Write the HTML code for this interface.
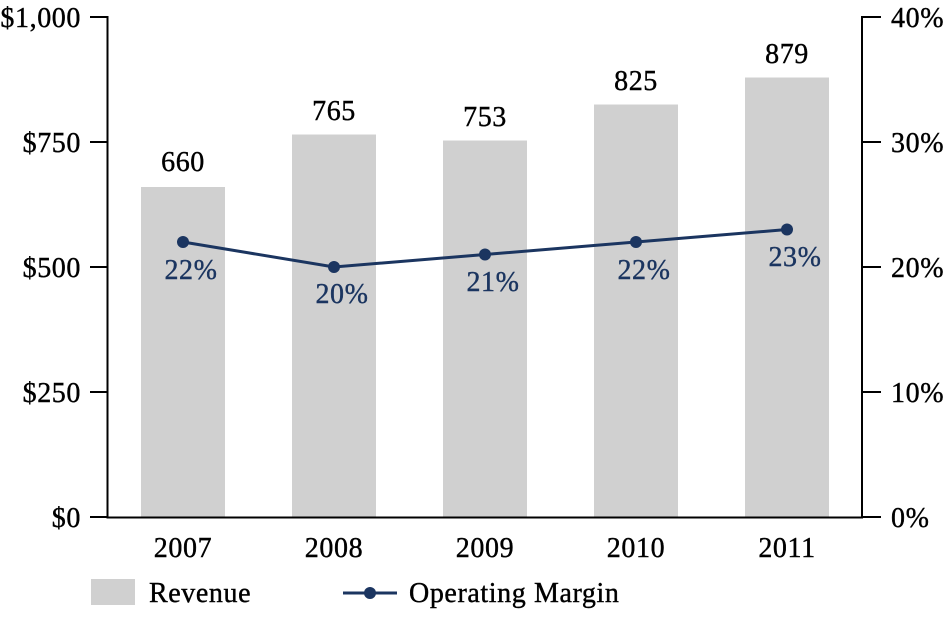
<!DOCTYPE html>
<html><head><style>body{margin:0;background:#fff} svg text{font-family:"Liberation Serif","Times New Roman","DejaVu Serif",serif;font-size:28px;letter-spacing:0.6px;stroke-width:0.4px}</style></head><body>
<svg width="945" height="613" xmlns="http://www.w3.org/2000/svg">
<g fill="#d0d0d0">
<rect x="141" y="187" width="84" height="330"/>
<rect x="292" y="134.5" width="84" height="382.5"/>
<rect x="443" y="140.5" width="84" height="376.5"/>
<rect x="594" y="104.5" width="84" height="412.5"/>
<rect x="745" y="77.5" width="84" height="439.5"/>
</g>
<g stroke="#000" stroke-width="2" fill="none">
<path d="M107.5 16 V517.5 H862 V16"/>
<path d="M90 17H107.5 M90 142H107.5 M90 267H107.5 M90 392H107.5 M90 517H107.5"/>
<path d="M862 17H881 M862 142H881 M862 267H881 M862 392H881 M862 517H881"/>
</g>
<g text-anchor="end" stroke="#000">
<text x="81" y="27">$1,000</text><text x="81" y="152">$750</text><text x="81" y="277">$500</text><text x="81" y="402">$250</text><text x="81" y="527">$0</text>
</g>
<g stroke="#000">
<text x="891" y="27">40%</text><text x="891" y="152">30%</text><text x="891" y="277">20%</text><text x="891" y="402">10%</text><text x="891" y="527">0%</text>
</g>
<g text-anchor="middle" stroke="#000">
<text x="183" y="557">2007</text><text x="334" y="557">2008</text><text x="485" y="557">2009</text><text x="636" y="557">2010</text><text x="787" y="557">2011</text>
<text x="183" y="171">660</text><text x="334" y="120">765</text><text x="485" y="126">753</text><text x="636" y="90">825</text><text x="787" y="63">879</text>
</g>
<polyline points="183,242 334,267 485,254.5 636,242 787,229.5" fill="none" stroke="#1b3560" stroke-width="3"/>
<g fill="#1b3560">
<circle cx="183" cy="242" r="6"/><circle cx="334" cy="267" r="6"/><circle cx="485" cy="254.5" r="6"/><circle cx="636" cy="242" r="6"/><circle cx="787" cy="229.5" r="6"/>
<g text-anchor="middle" stroke="#1b3560">
<text x="191" y="279">22%</text><text x="342" y="303">20%</text><text x="493" y="291">21%</text><text x="644" y="279">22%</text><text x="795" y="266">23%</text>
</g>
</g>
<rect x="91" y="579" width="44" height="26" fill="#d0d0d0"/>
<text x="149" y="602" stroke="#000">Revenue</text>
<line x1="343" y1="593" x2="397" y2="593" stroke="#1b3560" stroke-width="3"/>
<circle cx="370" cy="593" r="6" fill="#1b3560"/>
<text x="409" y="602" stroke="#000">Operating Margin</text>
</svg>
</body></html>
